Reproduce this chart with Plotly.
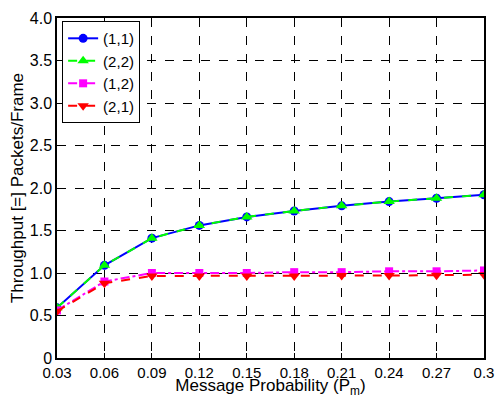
import plotly.graph_objects as go

# Message probability values (x axis)
pm = [0.03, 0.06, 0.09, 0.12, 0.15, 0.18, 0.21, 0.24, 0.27, 0.30]
pm_labels = ["0.03", "0.06", "0.09", "0.12", "0.15", "0.18", "0.21", "0.24", "0.27", "0.3"]

# Throughput (packets/frame) for each configuration
thr_11 = [0.59, 1.09, 1.41, 1.56, 1.66, 1.73, 1.79, 1.84, 1.88, 1.92]
thr_22 = [0.59, 1.09, 1.41, 1.56, 1.66, 1.73, 1.79, 1.84, 1.88, 1.92]
thr_12 = [0.56, 0.90, 1.00, 1.00, 1.00, 1.01, 1.01, 1.02, 1.02, 1.03]
thr_21 = [0.55, 0.88, 0.965, 0.965, 0.965, 0.965, 0.97, 0.97, 0.975, 0.98]

y_ticks = [0, 0.5, 1.0, 1.5, 2.0, 2.5, 3.0, 3.5, 4.0]
y_labels = ["0", "0.5", "1.0", "1.5", "2.0", "2.5", "3.0", "3.5", "4.0"]

FONT = "Liberation Sans, Arial, sans-serif"

series = [
    ("(1,1)", thr_11, "#0000ff", "solid", "circle", 9),
    ("(2,2)", thr_22, "#00ff00", "dash", "triangle-up", 10),
    ("(1,2)", thr_12, "#ff00ff", "dashdot", "square", 8),
    ("(2,1)", thr_21, "#ff0000", "dash", "triangle-down", 10),
]

fig = go.Figure()
for name, vals, color, dash, symbol, size in series:
    fig.add_trace(go.Scatter(
        x=pm, y=vals, name=name, mode="lines+markers",
        line=dict(color=color, width=2, dash=dash),
        marker=dict(symbol=symbol, size=size, color=color),
    ))

axis_common = dict(
    showline=True, linecolor="black", linewidth=1.5, mirror="ticks",
    ticks="inside", ticklen=5, tickcolor="black",
    showgrid=True, gridcolor="black", griddash="dash", gridwidth=1,
    zeroline=False,
)

fig.update_layout(
    width=495, height=398,
    margin=dict(l=57, r=11, t=18, b=40),
    paper_bgcolor="white", plot_bgcolor="white",
    font=dict(family=FONT, color="black"),
    xaxis=dict(
        range=[0.03, 0.30], tickvals=pm, ticktext=pm_labels,
        tickfont=dict(family=FONT, size=15, color="black"),
        title=dict(text="Message Probability (P<sub>m</sub>)",
                   font=dict(family=FONT, size=17, color="black"), standoff=1),
        automargin=False,
        **axis_common,
    ),
    yaxis=dict(
        range=[0, 4.0], tickvals=y_ticks, ticktext=y_labels,
        tickfont=dict(family=FONT, size=16, color="black"),
        title=dict(text="Throughput [=] Packets/Frame",
                   font=dict(family=FONT, size=17, color="black"), standoff=2),
        automargin=False,
        **axis_common,
    ),
    legend=dict(
        x=0.012, y=0.991, xanchor="left", yanchor="top",
        bgcolor="white", bordercolor="black", borderwidth=1,
        font=dict(family=FONT, size=15, color="black"),
        tracegroupgap=0, itemwidth=30,
    ),
    showlegend=True,
)

fig.write_html("out.html")
